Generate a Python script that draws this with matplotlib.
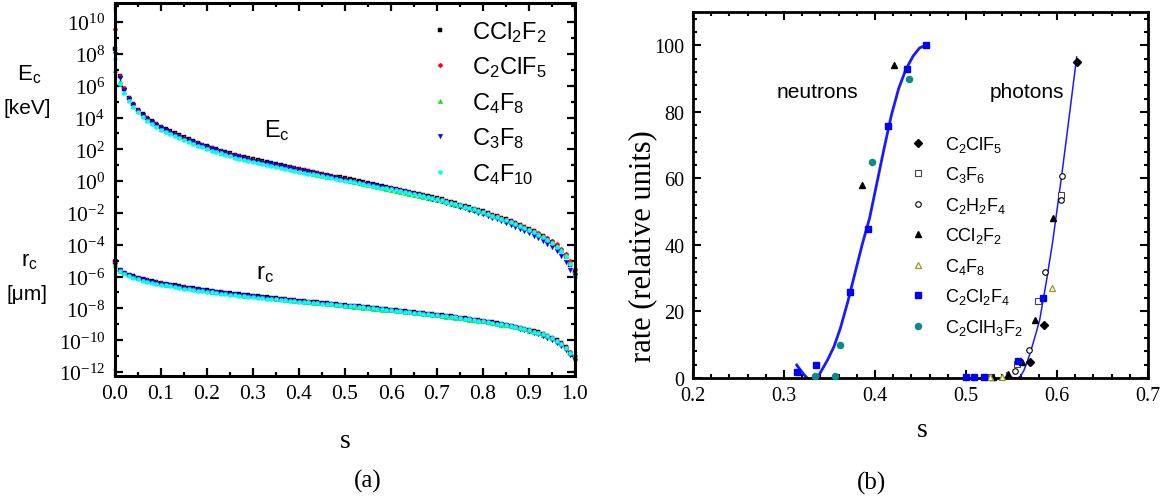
import numpy as np
import matplotlib
matplotlib.use('Agg')
import matplotlib.pyplot as plt
from matplotlib.ticker import FixedLocator, FuncFormatter, MultipleLocator

plt.rcParams['font.family'] = ['Liberation Serif']
plt.rcParams['mathtext.default'] = 'regular'
SANS = 'Liberation Sans'

W, H = 1172, 502

# ---------------- panel (a) data: log10 values ----------------
s_grid = [0.00, 0.01, 0.02, 0.03, 0.04, 0.05, 0.06, 0.07, 0.08, 0.09,
          0.10, 0.11, 0.12, 0.13, 0.14, 0.15, 0.16, 0.17, 0.18, 0.19,
          0.20, 0.21, 0.22, 0.23, 0.24, 0.25, 0.26, 0.27, 0.28, 0.29,
          0.30, 0.31, 0.32, 0.33, 0.34, 0.35, 0.36, 0.37, 0.38, 0.39,
          0.40, 0.41, 0.42, 0.43, 0.44, 0.45, 0.46, 0.47, 0.48, 0.49,
          0.50, 0.51, 0.52, 0.53, 0.54, 0.55, 0.56, 0.57, 0.58, 0.59,
          0.60, 0.61, 0.62, 0.63, 0.64, 0.65, 0.66, 0.67, 0.68, 0.69,
          0.70, 0.71, 0.72, 0.73, 0.74, 0.75, 0.76, 0.77, 0.78, 0.79,
          0.80, 0.81, 0.82, 0.83, 0.84, 0.85, 0.86, 0.87, 0.88, 0.89,
          0.90, 0.91, 0.92, 0.93, 0.94, 0.95, 0.96, 0.97, 0.98, 0.99,
          1.00]

gases_a = ['CCl$_2$F$_2$', 'C$_2$ClF$_5$', 'C$_4$F$_8$', 'C$_3$F$_8$', 'C$_4$F$_{10}$']

logEc_CCl2F2 = [8.30, 6.60, 5.80, 5.25, 4.85, 4.50, 4.22, 3.98, 3.78, 3.60,
                3.42, 3.27, 3.13, 3.00, 2.87, 2.75, 2.63, 2.52, 2.41, 2.30,
                2.20, 2.10, 2.01, 1.92, 1.83, 1.74, 1.66, 1.58, 1.51, 1.44,
                1.37, 1.31, 1.25, 1.19, 1.13, 1.07, 1.01, 0.95, 0.89, 0.83,
                0.77, 0.71, 0.65, 0.59, 0.53, 0.47, 0.41, 0.35, 0.29, 0.23,
                0.17, 0.11, 0.05, -0.01, -0.07, -0.13, -0.19, -0.25, -0.31, -0.37,
                -0.43, -0.49, -0.55, -0.61, -0.67, -0.73, -0.80, -0.87, -0.94, -1.01,
                -1.08, -1.15, -1.23, -1.31, -1.39, -1.47, -1.55, -1.63, -1.72, -1.81,
                -1.90, -2.00, -2.10, -2.20, -2.30, -2.41, -2.52, -2.64, -2.76, -2.89,
                -3.02, -3.16, -3.31, -3.47, -3.65, -3.85, -4.08, -4.36, -4.72, -5.25,
                -5.70]
logEc_C2ClF5 = [9.55, 6.62, 5.85, 5.25, 4.82, 4.47, 4.19, 3.95, 3.75, 3.57,
                3.39, 3.24, 3.10, 2.97, 2.84, 2.72, 2.60, 2.49, 2.38, 2.27,
                2.17, 2.07, 1.98, 1.89, 1.80, 1.71, 1.63, 1.55, 1.48, 1.41,
                1.34, 1.28, 1.22, 1.16, 1.10, 1.04, 0.98, 0.92, 0.86, 0.80,
                0.74, 0.68, 0.62, 0.56, 0.50, 0.44, 0.38, 0.32, 0.26, 0.20,
                0.14, 0.08, 0.02, -0.04, -0.10, -0.16, -0.22, -0.28, -0.34, -0.40,
                -0.46, -0.52, -0.58, -0.64, -0.70, -0.76, -0.83, -0.90, -0.97, -1.04,
                -1.11, -1.18, -1.26, -1.34, -1.42, -1.50, -1.58, -1.66, -1.75, -1.84,
                -1.93, -2.02, -2.12, -2.22, -2.32, -2.42, -2.53, -2.64, -2.76, -2.88,
                -3.00, -3.13, -3.27, -3.42, -3.58, -3.76, -3.98, -4.24, -4.58, -5.05,
                -5.55]
logEc_C4F8 = [7.00, 6.30, 5.62, 5.10, 4.72, 4.38, 4.10, 3.86, 3.66, 3.48,
              3.30, 3.15, 3.01, 2.88, 2.75, 2.63, 2.51, 2.40, 2.29, 2.18,
              2.08, 1.98, 1.89, 1.80, 1.71, 1.62, 1.54, 1.46, 1.39, 1.32,
              1.25, 1.19, 1.13, 1.07, 1.01, 0.95, 0.89, 0.83, 0.77, 0.71,
              0.65, 0.59, 0.53, 0.47, 0.41, 0.35, 0.29, 0.23, 0.17, 0.11,
              0.05, -0.01, -0.07, -0.13, -0.19, -0.25, -0.31, -0.37, -0.43, -0.49,
              -0.55, -0.61, -0.67, -0.73, -0.79, -0.85, -0.91, -0.98, -1.05, -1.12,
              -1.19, -1.26, -1.33, -1.41, -1.49, -1.57, -1.65, -1.73, -1.81, -1.90,
              -1.99, -2.08, -2.18, -2.28, -2.38, -2.48, -2.59, -2.70, -2.82, -2.94,
              -3.07, -3.20, -3.35, -3.50, -3.67, -3.86, -4.08, -4.35, -4.68, -5.15,
              -5.65]
logEc_C3F8 = [8.00, 6.50, 5.70, 5.17, 4.77, 4.42, 4.14, 3.90, 3.70, 3.52,
              3.34, 3.19, 3.05, 2.92, 2.79, 2.67, 2.55, 2.44, 2.33, 2.22,
              2.12, 2.02, 1.93, 1.84, 1.75, 1.66, 1.58, 1.50, 1.43, 1.36,
              1.29, 1.23, 1.17, 1.11, 1.05, 0.99, 0.93, 0.87, 0.81, 0.75,
              0.69, 0.63, 0.57, 0.51, 0.45, 0.39, 0.33, 0.27, 0.21, 0.15,
              0.09, 0.03, -0.03, -0.09, -0.15, -0.21, -0.27, -0.33, -0.39, -0.45,
              -0.51, -0.57, -0.63, -0.69, -0.75, -0.82, -0.89, -0.96, -1.03, -1.11,
              -1.19, -1.27, -1.35, -1.43, -1.52, -1.61, -1.70, -1.79, -1.88, -1.98,
              -2.08, -2.18, -2.29, -2.40, -2.51, -2.63, -2.75, -2.88, -3.01, -3.15,
              -3.29, -3.44, -3.60, -3.77, -3.96, -4.17, -4.42, -4.72, -5.10, -5.60,
              -5.95]
logEc_C4F10 = [7.70, 6.10, 5.55, 5.05, 4.66, 4.32, 4.04, 3.80, 3.60, 3.42,
               3.24, 3.09, 2.95, 2.82, 2.69, 2.57, 2.45, 2.34, 2.23, 2.12,
               2.02, 1.92, 1.83, 1.74, 1.65, 1.56, 1.48, 1.40, 1.33, 1.26,
               1.19, 1.13, 1.07, 1.01, 0.95, 0.89, 0.83, 0.77, 0.71, 0.65,
               0.60, 0.54, 0.48, 0.43, 0.37, 0.32, 0.26, 0.21, 0.15, 0.10,
               0.04, -0.01, -0.07, -0.12, -0.18, -0.23, -0.29, -0.34, -0.40, -0.45,
               -0.51, -0.56, -0.62, -0.68, -0.74, -0.80, -0.86, -0.93, -1.00, -1.07,
               -1.14, -1.21, -1.29, -1.37, -1.45, -1.53, -1.61, -1.69, -1.78, -1.87,
               -1.96, -2.06, -2.16, -2.26, -2.36, -2.47, -2.58, -2.70, -2.82, -2.95,
               -3.08, -3.22, -3.37, -3.53, -3.70, -3.89, -4.11, -4.38, -4.72, -5.20,
               -6.00]

logrc_CCl2F2 = [-5.10, -5.58, -5.76, -5.88, -5.98, -6.07, -6.15, -6.22, -6.29, -6.35,
                -6.41, -6.46, -6.51, -6.56, -6.61, -6.66, -6.70, -6.74, -6.78, -6.82,
                -6.86, -6.90, -6.94, -6.98, -7.01, -7.05, -7.08, -7.12, -7.15, -7.18,
                -7.21, -7.24, -7.27, -7.30, -7.33, -7.36, -7.39, -7.42, -7.45, -7.48,
                -7.51, -7.54, -7.57, -7.60, -7.62, -7.65, -7.68, -7.71, -7.74, -7.77,
                -7.80, -7.82, -7.85, -7.88, -7.91, -7.94, -7.97, -8.00, -8.03, -8.06,
                -8.09, -8.12, -8.15, -8.18, -8.21, -8.24, -8.27, -8.30, -8.33, -8.36,
                -8.40, -8.43, -8.47, -8.50, -8.54, -8.58, -8.62, -8.66, -8.70, -8.74,
                -8.78, -8.83, -8.88, -8.93, -8.98, -9.03, -9.09, -9.15, -9.21, -9.28,
                -9.35, -9.43, -9.51, -9.61, -9.72, -9.85, -10.00, -10.18, -10.43, -10.78,
                -11.05]
logrc_C2ClF5 = [-5.15, -5.60, -5.78, -5.90, -6.00, -6.09, -6.17, -6.24, -6.31, -6.37,
                -6.43, -6.48, -6.53, -6.58, -6.63, -6.68, -6.72, -6.76, -6.80, -6.84,
                -6.88, -6.92, -6.96, -7.00, -7.03, -7.07, -7.10, -7.14, -7.17, -7.20,
                -7.23, -7.26, -7.29, -7.32, -7.35, -7.38, -7.41, -7.44, -7.47, -7.50,
                -7.53, -7.56, -7.59, -7.62, -7.64, -7.67, -7.70, -7.73, -7.76, -7.79,
                -7.82, -7.84, -7.87, -7.90, -7.93, -7.96, -7.99, -8.02, -8.05, -8.08,
                -8.11, -8.14, -8.17, -8.20, -8.23, -8.26, -8.29, -8.32, -8.35, -8.38,
                -8.42, -8.45, -8.49, -8.52, -8.56, -8.60, -8.64, -8.68, -8.72, -8.76,
                -8.80, -8.85, -8.90, -8.95, -9.00, -9.05, -9.11, -9.17, -9.23, -9.30,
                -9.37, -9.45, -9.53, -9.63, -9.74, -9.87, -10.02, -10.20, -10.45, -10.75,
                -11.15]
logrc_C4F8 = [-5.20, -5.62, -5.80, -5.92, -6.02, -6.11, -6.19, -6.26, -6.33, -6.39,
              -6.45, -6.50, -6.55, -6.60, -6.65, -6.70, -6.74, -6.78, -6.82, -6.86,
              -6.90, -6.94, -6.98, -7.02, -7.05, -7.09, -7.12, -7.16, -7.19, -7.22,
              -7.25, -7.28, -7.31, -7.34, -7.37, -7.40, -7.43, -7.46, -7.49, -7.52,
              -7.55, -7.58, -7.61, -7.64, -7.66, -7.69, -7.72, -7.75, -7.78, -7.81,
              -7.84, -7.86, -7.89, -7.92, -7.95, -7.98, -8.01, -8.04, -8.07, -8.10,
              -8.13, -8.16, -8.19, -8.22, -8.25, -8.28, -8.31, -8.34, -8.37, -8.40,
              -8.44, -8.47, -8.51, -8.54, -8.58, -8.62, -8.66, -8.70, -8.74, -8.78,
              -8.82, -8.87, -8.92, -8.97, -9.02, -9.07, -9.13, -9.19, -9.25, -9.32,
              -9.39, -9.47, -9.55, -9.65, -9.76, -9.89, -10.04, -10.22, -10.47, -10.82,
              -11.10]
logrc_C3F8 = [-5.00, -5.61, -5.79, -5.91, -6.01, -6.10, -6.18, -6.25, -6.32, -6.38,
              -6.44, -6.49, -6.54, -6.59, -6.64, -6.69, -6.73, -6.77, -6.81, -6.85,
              -6.89, -6.93, -6.97, -7.01, -7.04, -7.08, -7.11, -7.15, -7.18, -7.21,
              -7.24, -7.27, -7.30, -7.33, -7.36, -7.39, -7.42, -7.45, -7.48, -7.51,
              -7.54, -7.57, -7.60, -7.63, -7.65, -7.68, -7.71, -7.74, -7.77, -7.80,
              -7.83, -7.85, -7.88, -7.91, -7.94, -7.97, -8.00, -8.03, -8.06, -8.09,
              -8.12, -8.15, -8.18, -8.21, -8.24, -8.27, -8.30, -8.33, -8.36, -8.39,
              -8.43, -8.46, -8.50, -8.53, -8.57, -8.61, -8.65, -8.69, -8.73, -8.77,
              -8.81, -8.86, -8.91, -8.96, -9.01, -9.07, -9.13, -9.20, -9.27, -9.35,
              -9.43, -9.52, -9.62, -9.73, -9.86, -10.00, -10.17, -10.37, -10.62, -10.92,
              -11.05]
logrc_C4F10 = [-5.35, -5.68, -5.86, -5.98, -6.08, -6.17, -6.25, -6.32, -6.39, -6.45,
               -6.51, -6.56, -6.61, -6.66, -6.71, -6.76, -6.80, -6.84, -6.88, -6.92,
               -6.96, -7.00, -7.04, -7.08, -7.11, -7.15, -7.18, -7.22, -7.25, -7.28,
               -7.30, -7.33, -7.36, -7.38, -7.41, -7.44, -7.46, -7.49, -7.52, -7.54,
               -7.57, -7.60, -7.62, -7.65, -7.67, -7.70, -7.72, -7.75, -7.78, -7.80,
               -7.83, -7.85, -7.88, -7.91, -7.94, -7.97, -8.00, -8.03, -8.06, -8.09,
               -8.12, -8.15, -8.18, -8.21, -8.24, -8.27, -8.30, -8.33, -8.36, -8.39,
               -8.43, -8.46, -8.50, -8.53, -8.57, -8.61, -8.65, -8.69, -8.73, -8.77,
               -8.81, -8.86, -8.91, -8.96, -9.01, -9.06, -9.12, -9.18, -9.24, -9.31,
               -9.38, -9.46, -9.54, -9.64, -9.75, -9.88, -10.03, -10.21, -10.46, -10.80,
               -11.00]

# ---------------- panel (b) data ----------------
neut_fit_s = [0.314, 0.318, 0.322, 0.3255, 0.329, 0.333, 0.337, 0.342, 0.348, 0.355,
              0.362, 0.370, 0.378, 0.386, 0.394, 0.402, 0.410, 0.418, 0.426, 0.434,
              0.442, 0.449, 0.456]
neut_fit_r = [3.9, 2.4, 1.0, 0.0, -0.8, -0.7, 0.2, 2.6, 5.5, 9.5,
              15.0, 22.8, 31.5, 40.2, 48.0, 58.5, 69.0, 79.0, 87.0, 92.8,
              96.8, 99.2, 100.0]
phot_fit_s = [0.5447, 0.548, 0.552, 0.556, 0.560, 0.5635, 0.567, 0.5705, 0.574, 0.5775,
              0.581, 0.5845, 0.588, 0.5915, 0.595, 0.600, 0.605, 0.610, 0.615, 0.6216]
phot_fit_r = [1.5, 0.6, 0.0, -0.2, 0.6, 2.2, 4.7, 7.5, 10.7, 14.0,
              17.5, 23.0, 28.5, 34.5, 40.5, 50.5, 60.6, 71.2, 82.0, 96.5]

C2ClF5_s = [0.5703, 0.586, 0.6216]
C2ClF5_r = [4.9, 16.0, 95.0]
C3F6_s = [0.527, 0.5557, 0.5795, 0.6044]
C3F6_r = [0.3, 4.2, 23.0, 55.0]
C2H2F4_s = [0.5538, 0.5696, 0.587, 0.6044, 0.605]
C2H2F4_r = [2.0, 8.5, 32.0, 53.5, 60.6]
CCl2F2_s = [0.386, 0.421, 0.5297, 0.5465, 0.5612, 0.576, 0.596]
CCl2F2_r = [58.0, 94.0, 0.3, 1.2, 4.9, 17.3, 48.0]
C4F8_s = [0.526, 0.5395, 0.5942]
C4F8_r = [0.3, 0.4, 27.0]
C2Cl2F4_s = [0.314, 0.3348, 0.3725, 0.392, 0.4147, 0.4355, 0.456, 0.500, 0.509, 0.520, 0.5575, 0.5843]
C2Cl2F4_r = [1.9, 3.9, 25.8, 44.9, 75.8, 92.9, 100.0, 0.3, 0.3, 0.3, 5.0, 24.0]
C2ClH3F2_s = [0.3337, 0.356, 0.3615, 0.3963, 0.4377]
C2ClH3F2_r = [0.7, 0.7, 9.9, 64.9, 89.8]

gases_b = ['C$_2$ClF$_5$', 'C$_3$F$_6$', 'C$_2$H$_2$F$_4$', 'CCl$_2$F$_2$',
           'C$_4$F$_8$', 'C$_2$Cl$_2$F$_4$', 'C$_2$ClH$_3$F$_2$']

# ---------------- figure ----------------
fig = plt.figure(figsize=(W / 100, H / 100), dpi=100)


def fx(x):
    return x / W


def fy(y):
    return 1 - y / H


axA = fig.add_axes([fx(115), fy(377), fx(575) - fx(115), fy(4) - fy(377)])
axB = fig.add_axes([fx(693), fy(379), fx(1148) - fx(693), fy(13) - fy(379)])

# ---- panel (a)
styles_a = [('black', 's', 3.0), ('#ff0000', 'D', 2.6), ('#00ee00', '^', 3.2),
            ('#0000ff', 'v', 3.2), ('#00ffff', 'o', 3.0)]
ec_all = [logEc_CCl2F2, logEc_C2ClF5, logEc_C4F8, logEc_C3F8, logEc_C4F10]
rc_all = [logrc_CCl2F2, logrc_C2ClF5, logrc_C4F8, logrc_C3F8, logrc_C4F10]
handles_a = []
for (col, mk, ms), ec, rc, lab in zip(styles_a, ec_all, rc_all, gases_a):
    h, = axA.plot(s_grid, 10 ** np.array(ec), ls='none', marker=mk, ms=ms,
                  color=col, mec=col, mew=0.3, clip_on=False, label=lab)
    axA.plot(s_grid, 10 ** np.array(rc), ls='none', marker=mk, ms=ms,
             color=col, mec=col, mew=0.3, clip_on=False)
    handles_a.append(h)

axA.set_yscale('log')
axA.set_xlim(0, 1.0)
axA.set_ylim(10 ** -12.25, 10 ** 11.2)
axA.xaxis.set_major_locator(MultipleLocator(0.1))
axA.xaxis.set_minor_locator(MultipleLocator(0.05))
axA.xaxis.set_major_formatter(FuncFormatter(lambda v, p: f'{v:.1f}'))
axA.yaxis.set_major_locator(FixedLocator([10.0 ** k for k in range(-12, 11, 2)]))
axA.yaxis.set_minor_locator(FixedLocator([10.0 ** k for k in range(-13, 12, 1)]))
axA.yaxis.set_major_formatter(FuncFormatter(lambda v, p: r'$10^{%d}$' % int(round(np.log10(v)))))
axA.yaxis.set_minor_formatter(FuncFormatter(lambda v, p: ''))
axA.tick_params(which='both', direction='in', top=True, right=True, width=1.6,
                labelsize=15.5, colors='black')
axA.tick_params(which='major', length=6)
axA.tick_params(which='minor', length=3)
axA.tick_params(axis='x', pad=6)
axA.tick_params(axis='y', pad=7)
for sp in axA.spines.values():
    sp.set_linewidth(2.2)

axA.text(0.352, 0.662, 'E$_c$', transform=axA.transAxes, family=SANS, fontsize=17,
         ha='center', va='center')
axA.text(0.326, 0.276, 'r$_c$', transform=axA.transAxes, family=SANS, fontsize=17,
         ha='center', va='center')

legA = axA.legend(handles=handles_a, labels=gases_a, loc='upper left',
                  bbox_to_anchor=(fx(428), fy(20)), bbox_transform=fig.transFigure,
                  frameon=False, prop={'family': SANS, 'size': 17},
                  handlelength=1.0, handletextpad=0.86, labelspacing=0.45,
                  borderpad=0, borderaxespad=0, markerscale=1.0)

fig.text(fx(29), fy(75), 'E$_c$', family=SANS, fontsize=16, ha='center', va='center')
fig.text(fx(27), fy(108), '[keV]', family=SANS, fontsize=15, ha='center', va='center')
fig.text(fx(29), fy(262), 'r$_c$', family=SANS, fontsize=16, ha='center', va='center')
fig.text(fx(27), fy(295), '[\u03bcm]', family=SANS, fontsize=15, ha='center', va='center')

fig.text(fx(345), fy(442), 's', fontsize=20, ha='center', va='center')
fig.text(fx(368), fy(481), '(a)', fontsize=18, ha='center', va='center')

# ---- panel (b)
axB.plot(neut_fit_s, neut_fit_r, color='#1a1aff', lw=2.0, zorder=2)
axB.plot(phot_fit_s, phot_fit_r, color='#1a1aff', lw=1.1, zorder=2)

styles_b = [
    (C2ClF5_s, C2ClF5_r, dict(marker='D', ms=3.6, color='black', mfc='black', mec='black')),
    (C3F6_s, C3F6_r, dict(marker='s', ms=4.0, color='#444444', mfc='white', mec='#444444', mew=0.8)),
    (C2H2F4_s, C2H2F4_r, dict(marker='o', ms=4.0, color='black', mfc='white', mec='black', mew=0.8)),
    (CCl2F2_s, CCl2F2_r, dict(marker='^', ms=4.6, color='black', mfc='black', mec='black')),
    (C4F8_s, C4F8_r, dict(marker='^', ms=4.6, color='#9a9a1a', mfc='white', mec='#9a9a1a', mew=0.9)),
    (C2Cl2F4_s, C2Cl2F4_r, dict(marker='s', ms=4.2, color='#0000ff', mfc='#0000ff', mec='#0000ff')),
    (C2ClH3F2_s, C2ClH3F2_r, dict(marker='o', ms=4.4, color='#0d8a8a', mfc='#0d8a8a', mec='#0d8a8a')),
]
handles_b = []
for xs, ys, kw in styles_b:
    h, = axB.plot(xs, ys, ls='none', clip_on=False, zorder=3, **kw)
    handles_b.append(h)

axB.set_xlim(0.2, 0.7)
axB.set_ylim(0, 110)
axB.xaxis.set_major_locator(MultipleLocator(0.1))
axB.xaxis.set_minor_locator(MultipleLocator(0.02))
axB.yaxis.set_major_locator(MultipleLocator(20))
axB.yaxis.set_minor_locator(MultipleLocator(4))
axB.xaxis.set_major_formatter(FuncFormatter(lambda v, p: f'{v:.1f}'))
axB.tick_params(which='both', direction='in', top=True, right=True, width=1.5,
                labelsize=14.5)
axB.tick_params(which='major', length=5.5)
axB.tick_params(which='minor', length=3)
axB.tick_params(axis='x', pad=6)
axB.tick_params(axis='y', pad=6)
for sp in axB.spines.values():
    sp.set_linewidth(2.0)

axB.legend(handles=handles_b, labels=gases_b, loc='upper left',
           bbox_to_anchor=(fx(909), fy(135)), bbox_transform=fig.transFigure,
           frameon=False, prop={'family': SANS, 'size': 13},
           handlelength=1.0, handletextpad=1.0, labelspacing=0.58,
           borderpad=0, borderaxespad=0)

fig.text(fx(817), fy(92), 'neutrons', family=SANS, fontsize=15, ha='center', va='center')
fig.text(fx(1027), fy(92), 'photons', family=SANS, fontsize=15, ha='center', va='center')
fig.text(fx(643), fy(246), 'rate (relative units)', fontsize=22, rotation=90,
         ha='center', va='center')
fig.text(fx(922), fy(431), 's', fontsize=20, ha='center', va='center')
fig.text(fx(871), fy(483), '(b)', fontsize=18, ha='center', va='center')

fig.savefig('out.png', dpi=100)
